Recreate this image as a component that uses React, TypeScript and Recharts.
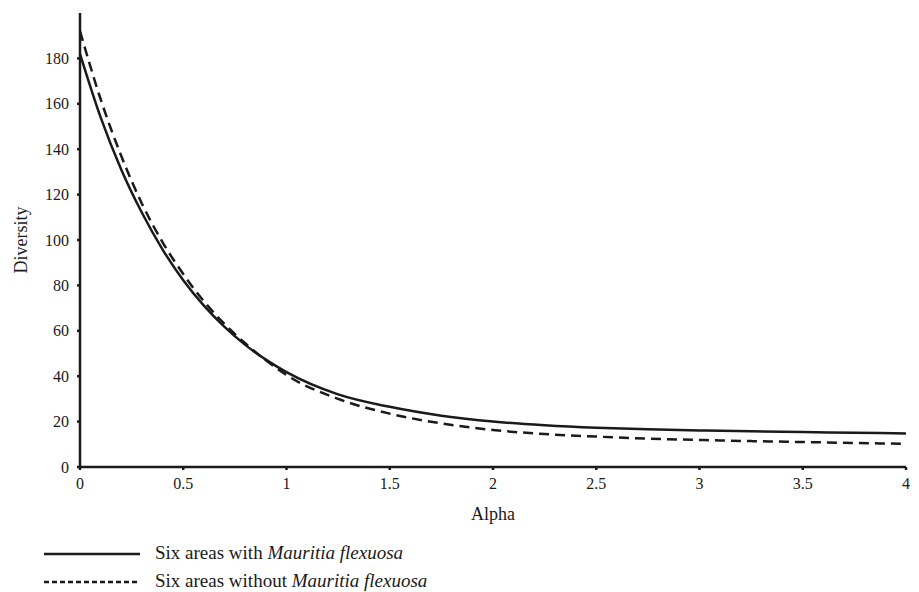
import React from "react";
import { LineChart, Line, XAxis, YAxis, Legend } from "recharts";

const alpha = [0, 0.1, 0.2, 0.3, 0.4, 0.5, 0.6, 0.7, 0.8, 0.9, 1, 1.25, 1.5, 1.75, 2, 2.25, 2.5, 2.75, 3, 3.25, 3.5, 3.75, 4];
const withMf = [182, 154, 131, 112, 95.8, 82.3, 71.1, 61.7, 53.8, 47.3, 41.8, 32, 26.5, 22.6, 20, 18.4, 17.3, 16.6, 16.1, 15.7, 15.4, 15.1, 14.8];
const withoutMf = [192, 162, 137, 116, 99, 85, 73, 63, 54.5, 47, 40.5, 30, 23.5, 19.2, 16.3, 14.5, 13.4, 12.5, 11.9, 11.4, 11, 10.6, 10.2];
const xTicks = [0, 0.5, 1, 1.5, 2, 2.5, 3, 3.5, 4];
const yTicks = [0, 20, 40, 60, 80, 100, 120, 140, 160, 180];

const data = alpha.map((a, i) => ({ alpha: a, with: withMf[i], without: withoutMf[i] }));

const font = "Liberation Serif, DejaVu Serif, serif";
const ink = "#1a1a1a";

function LegendBox() {
  const row = (dash: string | undefined, label: string, y: number) => (
    <div style={{ position: "absolute", left: 0, top: y, height: 24, width: 600 }}>
      <svg width={100} height={24} style={{ position: "absolute", left: 44, top: 0 }}>
        <line x1={0} y1={12} x2={96} y2={12} stroke={ink} strokeWidth={2.5} strokeDasharray={dash} />
      </svg>
      <span style={{ position: "absolute", left: 155, top: 0, fontSize: 19, color: ink, whiteSpace: "nowrap" }}>
        {label} <i>Mauritia flexuosa</i>
      </span>
    </div>
  );
  return (
    <div style={{ position: "relative", width: 600, height: 60, fontFamily: font }}>
      {row(undefined, "Six areas with", 1)}
      {row("5 3", "Six areas without", 29)}
    </div>
  );
}

// y title centred on the plot height
const yTitle = (props: any) => {
  const vb = props.viewBox || {};
  const cy = (vb.y ?? 0) + (vb.height ?? 0) / 2;
  return (
    <text x={21} y={cy} transform={`rotate(-90, 21, ${cy})`} textAnchor="middle" dominantBaseline="central"
      fontSize={18} fill={ink} fontFamily={font}>
      Diversity
    </text>
  );
};

export default function App() {
  return (
    <div style={{ position: "absolute", left: 0, top: 0, width: 919, height: 592, background: "#fff", fontFamily: font }}>
      <LineChart width={919} height={592} data={data} margin={{ top: 13, right: 13, bottom: 0, left: 0 }}>
        <XAxis
          dataKey="alpha"
          type="number"
          domain={[0, 4]}
          ticks={xTicks}
          height={65}
          tickSize={3}
          tickMargin={8}
          stroke={ink}
          strokeWidth={2.5}
          tick={{ fontSize: 16, fill: ink, fontFamily: font }}
          label={{ value: "Alpha", position: "insideTop", offset: 40, fontSize: 18, fill: ink, fontFamily: font }}
        />
        <YAxis
          type="number"
          domain={[0, 200]}
          ticks={yTicks}
          width={80}
          tickSize={3}
          tickMargin={8}
          stroke={ink}
          strokeWidth={2.5}
          tick={{ fontSize: 16, fill: ink, fontFamily: font }}
          label={yTitle}
        />
        <Legend
          verticalAlign="bottom"
          content={() => <LegendBox />}
          wrapperStyle={{ left: 0, top: 541, width: 600 }}
        />
        <Line type="monotone" dataKey="with" stroke={ink} strokeWidth={2.5} dot={false} isAnimationActive={false} />
        <Line type="monotone" dataKey="without" stroke={ink} strokeWidth={2.5} strokeDasharray="10 6" dot={false} isAnimationActive={false} />
      </LineChart>
    </div>
  );
}
